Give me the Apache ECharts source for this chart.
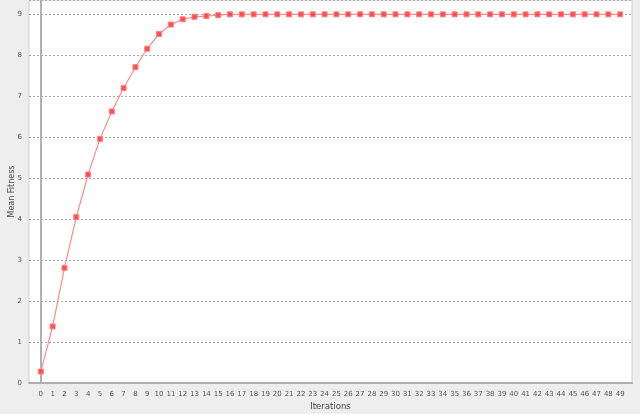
<!DOCTYPE html>
<html>
<head>
<meta charset="utf-8">
<script src="https://cdn.jsdelivr.net/npm/echarts@6/dist/echarts.min.js"></script>
<style>
html,body{margin:0;padding:0;background:#eeeeee;}
#c{width:640px;height:414px;}
</style>
</head>
<body>
<div id="c"></div>
<script>
const iterations = Array.from({length:50},(_,i)=>i);
const meanFitness = [0.28,1.38,2.81,4.05,5.09,5.96,6.63,7.20,7.71,8.16,8.52,8.75,8.88,8.94,8.96,8.98,
  9,9,9,9,9,9,9,9,9,9,9,9,9,9,9,9,9,9,9,9,9,9,9,9,9,9,9,9,9,9,9,9,9,9];
const xTitle = 'Iterations';
const yTitle = 'Mean Fitness';

const chart = echarts.init(document.getElementById('c'));
chart.setOption({
  backgroundColor:'#eeeeee',
  animation:false,
  grid:{left:29,right:8,top:0,bottom:31,containLabel:false,outerBoundsMode:'none',
    show:true,backgroundColor:'#ffffff',borderColor:'#d0d0d0',borderWidth:1},
  xAxis:{
    type:'value',min:-1,max:50,interval:1,
    name:xTitle,nameLocation:'middle',nameGap:16,nameMoveOverlap:false,
    nameTextStyle:{fontSize:8.5,color:'#444',fontFamily:'DejaVu Sans'},
    offset:3,
    axisLine:{show:true,lineStyle:{color:'#b0b0b0',width:2}},
    axisTick:{show:false},
    splitLine:{show:false},
    axisLabel:{fontSize:7,color:'#555',fontFamily:'DejaVu Sans',margin:5,
      formatter:v=>(v<0||v>49)?'':String(v)}
  },
  yAxis:{
    type:'value',min:0,max:9.35,interval:1,
    name:yTitle,nameLocation:'middle',nameGap:11,nameMoveOverlap:false,
    nameTextStyle:{fontSize:8,color:'#444',fontFamily:'DejaVu Sans'},
    offset:2,
    axisLine:{show:true,lineStyle:{color:'#b0b0b0',width:2}},
    axisTick:{show:false},
    splitLine:{show:true,lineStyle:{color:'#aaaaaa',type:[2,2],width:1}},
    axisLabel:{fontSize:7,color:'#555',fontFamily:'DejaVu Sans',margin:5,
      formatter:v=>Number.isInteger(v)?String(v):''}
  },
  series:[{
    type:'line',
    data:iterations.map((x,i)=>[x,meanFitness[i]]),
    symbol:'rect',symbolSize:5,
    lineStyle:{color:'#ff8a8a',width:1.2},
    itemStyle:{color:'#ff5050',borderColor:'#ff8080',borderWidth:1}
  }]
});
</script>
</body>
</html>
